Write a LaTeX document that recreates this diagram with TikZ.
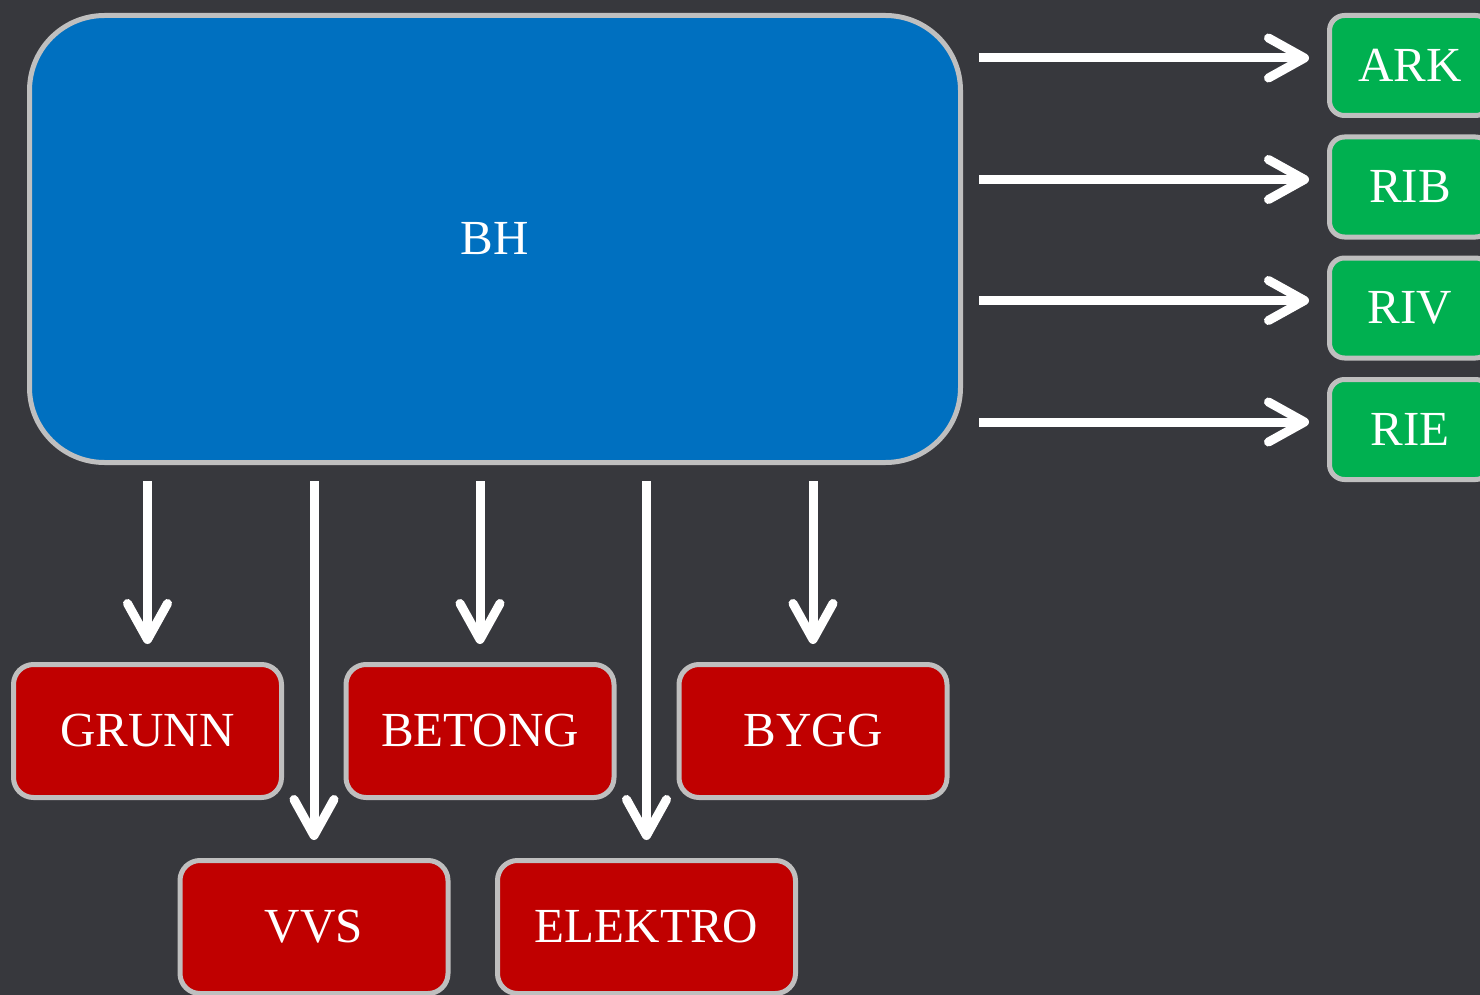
\documentclass[tikz,border=0pt]{standalone}
\usepackage{fontspec}
\setmainfont{Liberation Serif}
\usetikzlibrary{arrows.meta}
\definecolor{bgdark}{HTML}{37383D}
\definecolor{framegray}{HTML}{BFBFBF}
\definecolor{bhblue}{HTML}{0070C0}
\definecolor{consgreen}{HTML}{00B050}
\definecolor{tradered}{HTML}{C00000}
\begin{document}
\begin{tikzpicture}[x=1pt,y=-1pt,
  box/.style={draw=framegray, line width=5pt, text=white, inner sep=0pt,
    font=\fontsize{49}{59}\selectfont},
  mainbox/.style={box, fill=bhblue, rounded corners=75pt,
    minimum width=931pt, minimum height=447pt},
  consbox/.style={box, fill=consgreen, rounded corners=15pt,
    minimum width=161pt, minimum height=100pt},
  tradebox/.style={box, fill=tradered, rounded corners=20pt,
    minimum width=268pt, minimum height=133pt},
  arr/.style={draw=white, line width=9pt,
    -{Straight Barb[length=36pt, width=40pt, round]},
    shorten <=16pt, shorten >=18pt}]
  % background and page size
  \fill[bgdark] (0,0) rectangle (1480,995);
  \useasboundingbox (0,0) rectangle (1480,995);

  % client
  \node[mainbox] (bh) at (495,239) {BH};

  % consultants
  \node[consbox] (ark) at (1410,65.5)  {ARK};
  \node[consbox] (rib) at (1410,187)   {RIB};
  \node[consbox] (riv) at (1410,308)   {RIV};
  \node[consbox] (rie) at (1410,429.5) {RIE};

  % contractors
  \node[tradebox] (grunn)   at (147.5,731) {GRUNN};
  \node[tradebox] (betong)  at (480,731)   {BETONG};
  \node[tradebox] (bygg)    at (813,731)   {BYGG};
  \node[tradebox] (vvs)     at (314,927)   {VVS};
  \node[tradebox, minimum width=298pt] (elektro) at (646.5,927) {ELEKTRO};

  % BH to consultants
  \foreach \c in {ark,rib,riv,rie}
    \draw[arr] ([yshift=7.5pt]bh.east |- \c.west) -- ([yshift=7.5pt]\c.west);

  % BH to contractors
  \foreach \c in {grunn,vvs,betong,elektro,bygg}
    \draw[arr] (bh.south -| \c.north) -- (\c.north);
\end{tikzpicture}
\end{document}
